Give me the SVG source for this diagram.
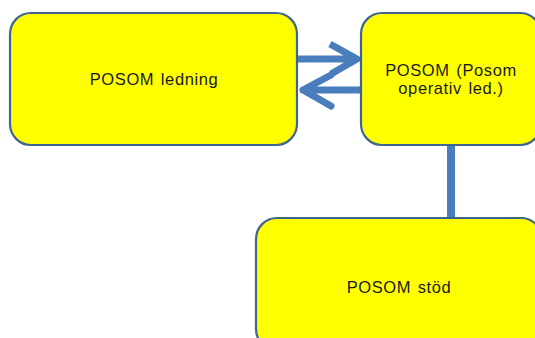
<svg xmlns="http://www.w3.org/2000/svg" width="535" height="338" viewBox="0 0 535 338">
<style>
.box{fill:#ffff00;stroke:#3f6490;stroke-width:2.2}
.lbl{font-family:"Liberation Sans",Arial,sans-serif;font-size:16.5px;fill:#1a1a1a;text-anchor:middle;letter-spacing:0.6px;word-spacing:1.5px}
.con{fill:none;stroke:#4a7dbb;stroke-width:7;stroke-linecap:round;stroke-linejoin:round}
</style>
<rect width="535" height="338" fill="#ffffff"/>
<g id="connectors">
<line class="con" x1="451" y1="146" x2="451" y2="217" style="stroke-linecap:butt;stroke-width:8"/>
<path class="con" d="M298 59 H357 M330 44 L357 59 L331 74" style="stroke-linecap:butt"/>
<path class="con" d="M360 90 H303 M331 75 L303 90 L331 106"/>
</g>
<g id="n1">
<rect class="box" x="10" y="13" width="287" height="132" rx="21"/>
<text class="lbl" x="154" y="85">POSOM ledning</text>
</g>
<g id="n2">
<rect class="box" x="361" y="13" width="180" height="132" rx="21"/>
<text class="lbl" x="451" y="76">POSOM (Posom</text>
<text class="lbl" x="451" y="94">operativ led.)</text>
</g>
<g id="n3">
<rect class="box" x="256" y="218" width="286" height="132" rx="21"/>
<text class="lbl" x="399" y="293">POSOM stöd</text>
</g>
</svg>
